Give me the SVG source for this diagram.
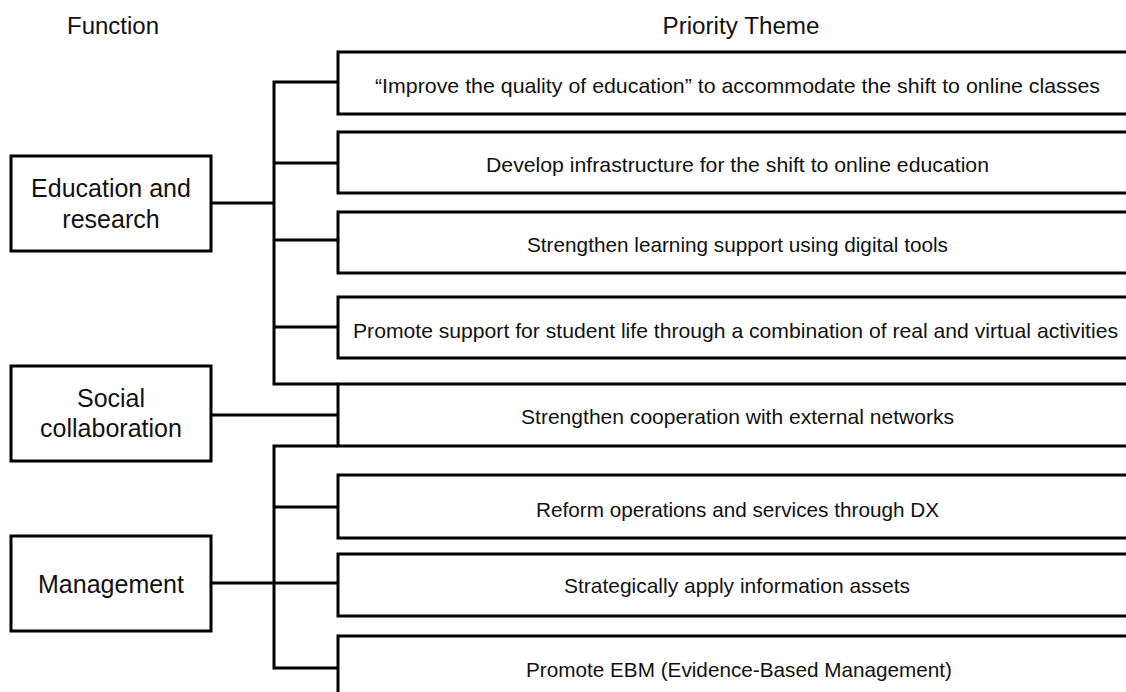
<svg xmlns="http://www.w3.org/2000/svg" width="1126" height="692" viewBox="0 0 1126 692">
<style>
.box{fill:#fff;stroke:#000;stroke-width:3}
.con{fill:none;stroke:#000;stroke-width:3;stroke-linejoin:miter}
.hdr{font-family:"Liberation Sans",Arial,sans-serif;font-size:23px;fill:#111;text-anchor:middle}
.fn{font-family:"Liberation Sans",Arial,sans-serif;font-size:25px;fill:#111;text-anchor:middle}
.th{font-family:"Liberation Sans",Arial,sans-serif;font-size:21px;fill:#111;text-anchor:middle}
</style>
<rect width="1126" height="692" fill="#fff"/>
<text class="hdr" x="113" y="34" textLength="92" lengthAdjust="spacingAndGlyphs">Function</text>
<text class="hdr" x="741" y="34" textLength="157" lengthAdjust="spacingAndGlyphs">Priority Theme</text>
<g id="connectors">
<path class="con" d="M211 203H274"/>
<path class="con" d="M338 82H274V384H338"/>
<path class="con" d="M274 163H338M274 240H338M274 327H338"/>
<path class="con" d="M211 415H338"/>
<path class="con" d="M338 446H274V668H338"/>
<path class="con" d="M274 507H338M211 583H338"/>
</g>
<g id="n-edu"><rect class="box" x="11" y="156" width="200" height="95"/><text class="fn" x="111" y="197">Education and</text><text class="fn" x="111" y="228">research</text></g>
<g id="n-soc"><rect class="box" x="11" y="366" width="200" height="95"/><text class="fn" x="111" y="407">Social</text><text class="fn" x="111" y="437">collaboration</text></g>
<g id="n-mgmt"><rect class="box" x="11" y="536" width="200" height="95"/><text class="fn" x="111" y="593">Management</text></g>
<g id="t1"><rect class="box" x="338" y="52" width="800" height="62"/><text class="th" x="737.5" y="93" textLength="725" lengthAdjust="spacingAndGlyphs">“Improve the quality of education” to accommodate the shift to online classes</text></g>
<g id="t2"><rect class="box" x="338" y="132" width="800" height="61"/><text class="th" x="737.5" y="172" textLength="503" lengthAdjust="spacingAndGlyphs">Develop infrastructure for the shift to online education</text></g>
<g id="t3"><rect class="box" x="338" y="212" width="800" height="61"/><text class="th" x="737.5" y="252" textLength="421" lengthAdjust="spacingAndGlyphs">Strengthen learning support using digital tools</text></g>
<g id="t4"><rect class="box" x="338" y="297" width="800" height="61"/><text class="th" x="735.5" y="338" textLength="765" lengthAdjust="spacingAndGlyphs">Promote support for student life through a combination of real and virtual activities</text></g>
<g id="t5"><rect class="box" x="338" y="384" width="800" height="62"/><text class="th" x="737.5" y="424" textLength="433" lengthAdjust="spacingAndGlyphs">Strengthen cooperation with  external networks</text></g>
<g id="t6"><rect class="box" x="338" y="475" width="800" height="63"/><text class="th" x="737.5" y="517" textLength="403" lengthAdjust="spacingAndGlyphs">Reform operations and services through DX</text></g>
<g id="t7"><rect class="box" x="338" y="554" width="800" height="62"/><text class="th" x="737" y="593" textLength="346" lengthAdjust="spacingAndGlyphs">Strategically apply  information assets</text></g>
<g id="t8"><rect class="box" x="338" y="636" width="800" height="62"/><text class="th" x="739" y="677" textLength="426" lengthAdjust="spacingAndGlyphs">Promote EBM (Evidence-Based Management)</text></g>
</svg>
